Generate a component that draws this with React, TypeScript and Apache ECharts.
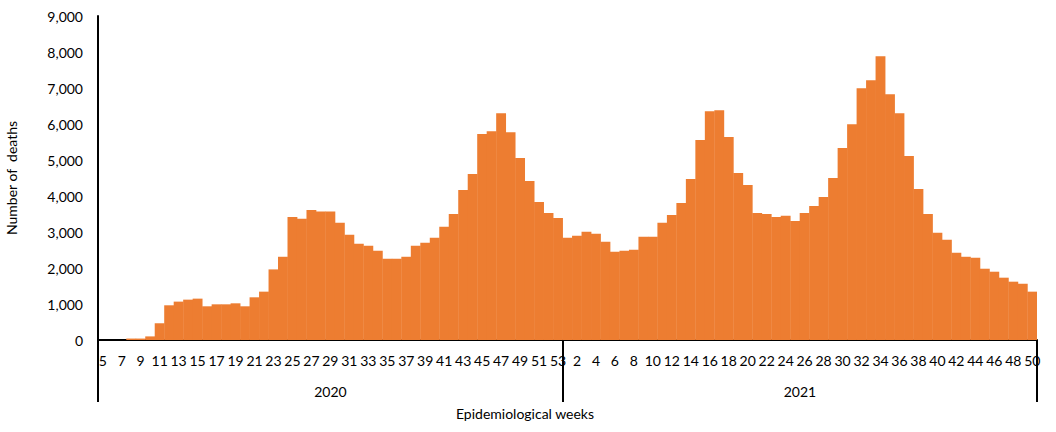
import React, { useEffect, useRef } from "react";
import * as echarts from "echarts";

const weeks2020: number[] = Array.from({ length: 49 }, (_, i) => i + 5);
const weeks2021: number[] = Array.from({ length: 50 }, (_, i) => i + 1);

const deaths2020: number[] = [
  0, 0, 0, 40, 40, 100, 465, 964, 1066, 1121,
  1149, 936, 991, 991, 1019, 936, 1186, 1343, 1961, 2312,
  3420, 3365, 3614, 3568, 3568, 3254, 2922, 2672, 2617, 2479,
  2257, 2257, 2312, 2617, 2700, 2839, 3143, 3503, 4168, 4611,
  5719, 5802, 6300, 5774, 5054, 4417, 3835, 3531, 3392,
];

const deaths2021: number[] = [
  2839, 2893, 3004, 2949, 2728, 2451, 2479, 2506, 2866, 2866,
  3254, 3475, 3808, 4473, 5553, 6356, 6384, 5636, 4640, 4307,
  3531, 3503, 3420, 3448, 3309, 3531, 3725, 3974, 4500, 5331,
  5996, 6993, 7214, 7879, 6826, 6300, 5109, 4196, 3503, 2977,
  2783, 2423, 2312, 2285, 1980, 1897, 1731, 1620, 1565, 1343,
];

const years: string[] = ["2020", "2021"];
const yTicks: number[] = [0, 1000, 2000, 3000, 4000, 5000, 6000, 7000, 8000, 9000];

const FONT = "Lato, 'Open Sans', sans-serif";
const FS = 14;

export default function App() {
  const ref = useRef<HTMLDivElement>(null);

  useEffect(() => {
    if (!ref.current) return;
    const chart = echarts.init(ref.current, null, { renderer: "svg" });

    const categories = [...weeks2020, ...weeks2021].map(String);
    const values = [...deaths2020, ...deaths2021];
    const counts = [weeks2020.length, weeks2021.length];
    const total = counts[0] + counts[1];
    const bounds = [0, counts[0], total];
    const centers = [counts[0] / 2, counts[0] + counts[1] / 2];

    chart.setOption({
      animation: false,
      textStyle: { fontFamily: FONT },
      grid: {
        left: 98,
        right: 19,
        top: 16,
        bottom: 92,
        containLabel: false,
        outerBoundsMode: "none",
      },
      xAxis: [
        {
          type: "category",
          data: categories,
          boundaryGap: true,
          axisLine: { show: true, lineStyle: { color: "#000", width: 2 } },
          axisTick: { show: false },
          axisLabel: {
            interval: 1,
            margin: 13,
            fontSize: FS,
            color: "#000",
            fontFamily: FONT,
          },
          splitLine: { show: false },
        },
        {
          type: "value",
          position: "bottom",
          min: 0,
          max: total,
          axisLine: { show: false },
          splitLine: { show: false },
          axisTick: {
            show: true,
            customValues: bounds,
            length: 62,
            lineStyle: { color: "#000", width: 2 },
          },
          axisLabel: {
            show: true,
            customValues: centers,
            margin: 44,
            fontSize: FS,
            color: "#000",
            fontFamily: FONT,
            formatter: (v: number) => (v < counts[0] ? years[0] : years[1]),
          },
        },
      ],
      yAxis: {
        type: "value",
        min: yTicks[0],
        max: yTicks[yTicks.length - 1],
        interval: 1000,
        name: "Number of  deaths",
        nameLocation: "middle",
        nameGap: 80,
        nameRotate: 90,
        nameTextStyle: { fontSize: FS, color: "#000", fontFamily: FONT },
        axisLine: { show: true, lineStyle: { color: "#000", width: 2 } },
        axisTick: { show: false },
        splitLine: { show: false },
        axisLabel: {
          margin: 15,
          fontSize: FS,
          color: "#000",
          fontFamily: FONT,
          formatter: (v: number) => v.toLocaleString("en-US"),
        },
      },
      graphic: [
        {
          type: "text",
          x: 525,
          y: 413,
          style: {
            text: "Epidemiological weeks",
            fontSize: FS,
            fontFamily: FONT,
            fill: "#000",
            align: "center",
            verticalAlign: "middle",
          },
        },
      ],
      series: [
        {
          type: "bar",
          xAxisIndex: 0,
          data: values,
          barWidth: "104%",
          barCategoryGap: "0%",
          itemStyle: { color: "#ED7D31" },
        },
      ],
    });

    return () => chart.dispose();
  }, []);

  return (
    <div
      ref={ref}
      style={{ position: "fixed", left: 0, top: 0, width: 1056, height: 432, background: "#fff" }}
    />
  );
}
